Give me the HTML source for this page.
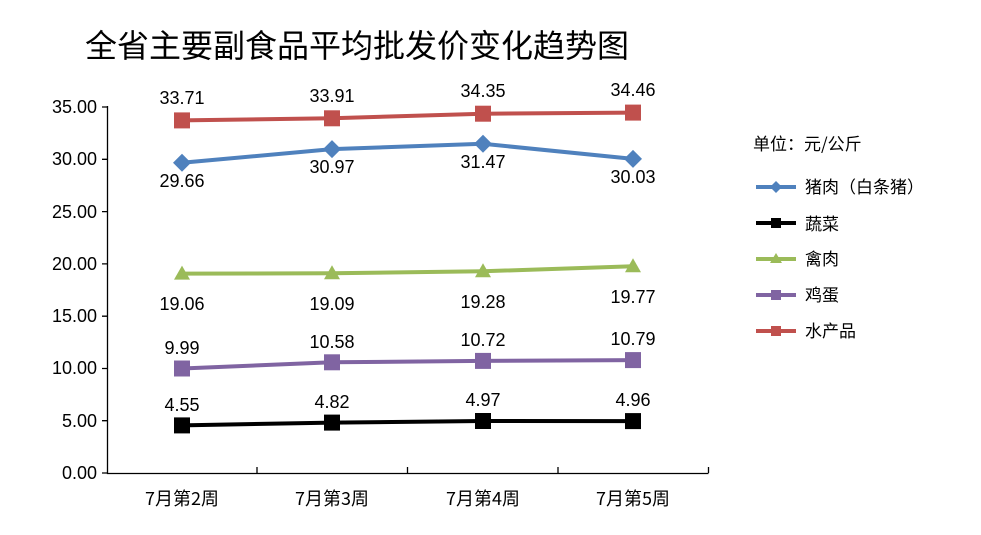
<!DOCTYPE html><html><head><meta charset="utf-8"><style>body{margin:0;background:#fff}</style></head><body>
<svg width="981" height="530" xmlns="http://www.w3.org/2000/svg" font-family="Liberation Sans, Noto Sans CJK SC, sans-serif">
<rect width="981" height="530" fill="#fff"/>
<text x="85" y="57" font-size="32" font-family="Noto Sans CJK SC, sans-serif">全省主要副食品平均批发价变化趋势图</text>
<g stroke="#000" stroke-width="1.3" fill="none">
<path d="M107.5 106V473.5H708.5"/>
<path d="M102 107H107M102 159.3H107M102 211.6H107M102 263.9H107M102 316.2H107M102 368.5H107M102 420.7H107M102 473H107"/>
<path d="M257 473V467M407.5 473V467M558 473V467M708.5 473V467"/>
</g>
<g font-size="18" text-anchor="end">
<text x="97" y="113">35.00</text><text x="97" y="165">30.00</text><text x="97" y="218">25.00</text><text x="97" y="270">20.00</text><text x="97" y="322">15.00</text><text x="97" y="374">10.00</text><text x="97" y="427">5.00</text><text x="97" y="479">0.00</text>
</g>
<g font-size="18" text-anchor="middle" font-family="Noto Sans CJK SC, sans-serif">
<text x="182" y="505">7月第2周</text><text x="332" y="505">7月第3周</text><text x="483" y="505">7月第4周</text><text x="633" y="505">7月第5周</text>
</g>
<g stroke-width="4" fill="none">
<polyline stroke="#c0504d" points="182,120.4 332,118.3 483,113.7 633,112.6"/>
<polyline stroke="#4f81bd" points="182,162.8 332,149.1 483,143.8 633,158.9"/>
<polyline stroke="#9bbb59" points="182,273.6 332,273.3 483,271.3 633,266.2"/>
<polyline stroke="#8064a2" points="182,368.5 332,362.3 483,360.9 633,360.1"/>
<polyline stroke="#000" points="182,425.4 332,422.6 483,421 633,421.1"/>
</g>
<g fill="#c0504d"><rect x="174" y="112.4" width="16" height="16"/><rect x="324" y="110.3" width="16" height="16"/><rect x="475" y="105.7" width="16" height="16"/><rect x="625" y="104.6" width="16" height="16"/></g>
<g fill="#8064a2"><rect x="174" y="360.5" width="16" height="16"/><rect x="324" y="354.3" width="16" height="16"/><rect x="475" y="352.9" width="16" height="16"/><rect x="625" y="352.1" width="16" height="16"/></g>
<g fill="#000"><rect x="174" y="417.4" width="16" height="16"/><rect x="324" y="414.6" width="16" height="16"/><rect x="475" y="413" width="16" height="16"/><rect x="625" y="413.1" width="16" height="16"/></g>
<g fill="#4f81bd"><path d="M182 153.8l9 9-9 9-9-9z"/><path d="M332 140.1l9 9-9 9-9-9z"/><path d="M483 134.8l9 9-9 9-9-9z"/><path d="M633 149.9l9 9-9 9-9-9z"/></g>
<g fill="#9bbb59"><path d="M182 265.6l8 14h-16z"/><path d="M332 265.3l8 14h-16z"/><path d="M483 263.3l8 14h-16z"/><path d="M633 258.2l8 14h-16z"/></g>
<g font-size="18" text-anchor="middle">
<text x="182" y="104">33.71</text><text x="332" y="102">33.91</text><text x="483" y="97">34.35</text><text x="633" y="96">34.46</text>
<text x="182" y="187">29.66</text><text x="332" y="173">30.97</text><text x="483" y="168">31.47</text><text x="633" y="183">30.03</text>
<text x="182" y="310">19.06</text><text x="332" y="310">19.09</text><text x="483" y="308">19.28</text><text x="633" y="303">19.77</text>
<text x="182" y="354">9.99</text><text x="332" y="348">10.58</text><text x="483" y="346">10.72</text><text x="633" y="345">10.79</text>
<text x="182" y="411">4.55</text><text x="332" y="408">4.82</text><text x="483" y="406">4.97</text><text x="633" y="406">4.96</text>
</g>
<g font-size="17" font-family="Noto Sans CJK SC, sans-serif">
<text x="753" y="150">单位：元/公斤</text>
<text x="805" y="193">猪肉（白条猪）</text>
<text x="805" y="230">蔬菜</text>
<text x="805" y="265">禽肉</text>
<text x="805" y="301">鸡蛋</text>
<text x="805" y="337">水产品</text>
</g>
<g stroke-width="4">
<line x1="756" y1="187" x2="796" y2="187" stroke="#4f81bd"/>
<line x1="756" y1="223" x2="796" y2="223" stroke="#000"/>
<line x1="756" y1="259" x2="796" y2="259" stroke="#9bbb59"/>
<line x1="756" y1="295" x2="796" y2="295" stroke="#8064a2"/>
<line x1="756" y1="331" x2="796" y2="331" stroke="#c0504d"/>
</g>
<path d="M776 181l6 6-6 6-6-6z" fill="#4f81bd"/>
<rect x="771" y="218" width="10" height="10" fill="#000"/>
<path d="M776 253l6 10h-12z" fill="#9bbb59"/>
<rect x="771" y="290" width="10" height="10" fill="#8064a2"/>
<rect x="771" y="326" width="10" height="10" fill="#c0504d"/>
</svg>
</body></html>
